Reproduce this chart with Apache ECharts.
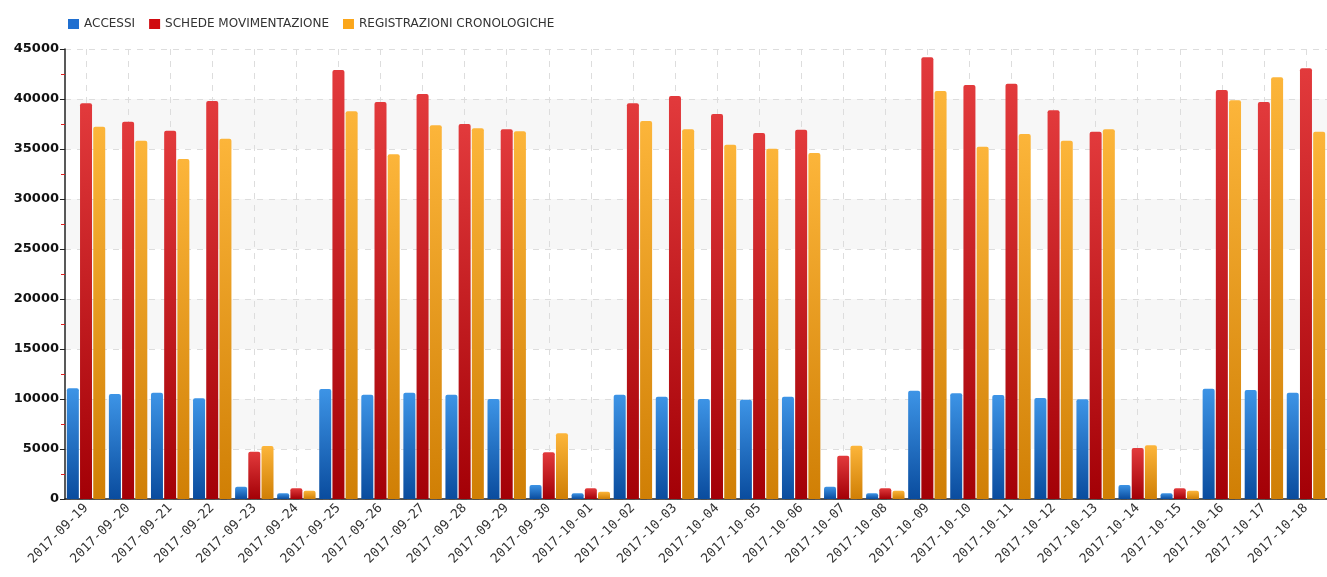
<!DOCTYPE html>
<html>
<head>
<meta charset="utf-8">
<script src="https://cdn.jsdelivr.net/npm/echarts@6/dist/echarts.min.js"></script>
<style>
  html, body { margin: 0; padding: 0; background: #fff; }
  #chart { width: 1327px; height: 577px; }
</style>
</head>
<body>
<div id="chart"></div>
<script>
const days = [
  '2017-09-19', '2017-09-20', '2017-09-21', '2017-09-22', '2017-09-23', '2017-09-24',
  '2017-09-25', '2017-09-26', '2017-09-27', '2017-09-28', '2017-09-29', '2017-09-30',
  '2017-10-01', '2017-10-02', '2017-10-03', '2017-10-04', '2017-10-05', '2017-10-06',
  '2017-10-07', '2017-10-08', '2017-10-09', '2017-10-10', '2017-10-11', '2017-10-12',
  '2017-10-13', '2017-10-14', '2017-10-15', '2017-10-16', '2017-10-17', '2017-10-18'
];

const accessi = [
  11070, 10500, 10630, 10070, 1230, 570, 11000, 10430, 10630, 10430, 10000, 1400,
  570, 10430, 10230, 10000, 9930, 10230, 1230, 570, 10830, 10570, 10400, 10100,
  9970, 1400, 570, 11030, 10900, 10630
];

const schede = [
  39570, 37730, 36830, 39800, 4730, 1070, 42900, 39700, 40500, 37500, 36970, 4670,
  1070, 39570, 40300, 38500, 36600, 36930, 4330, 1070, 44170, 41400, 41530, 38870,
  36730, 5100, 1070, 40900, 39700, 43070
];

const registrazioni = [
  37230, 35830, 34000, 36030, 5300, 830, 38770, 34470, 37370, 37070, 36770, 6570,
  730, 37800, 36970, 35430, 35030, 34600, 5330, 830, 40800, 35230, 36500, 35830,
  36970, 5370, 830, 39870, 42170, 36730
];

const seriesNames = ['ACCESSI', 'SCHEDE MOVIMENTAZIONE', 'REGISTRAZIONI CRONOLOGICHE'];

// colori: [chiaro, scuro]
const palette = [
  ['#3d94e6', '#0a4c9e'],
  ['#e23a3c', '#a30006'],
  ['#fcb53a', '#d07f05']
];
const legendColors = ['#1f6fd0', '#d00a0f', '#fba61a'];

const grad = (c) => new echarts.graphic.LinearGradient(0, 0, 0, 1, [
  { offset: 0, color: c[0] },
  { offset: 1, color: c[1] }
]);

const chart = echarts.init(document.getElementById('chart'));

const makeSeries = (name, values, c) => ({
  name: name,
  type: 'bar',
  data: values,
  barWidth: 12,
  barGap: '10%',
  itemStyle: { color: grad(c), borderRadius: [2, 2, 0, 0] }
});

const option = {
  animation: false,
  legend: {
    left: 63,
    top: 13,
    itemWidth: 11,
    itemHeight: 10,
    itemGap: 14,
    icon: 'rect',
    textStyle: { color: '#333', fontSize: 12, fontFamily: 'DejaVu Sans' },
    data: seriesNames.map((n, i) => ({ name: n, itemStyle: { color: legendColors[i] } }))
  },
  grid: { left: 65, right: -4, top: 49, bottom: 78 },
  xAxis: {
    type: 'category',
    data: days,
    axisLine: { lineStyle: { color: '#222', width: 1.5 } },
    axisTick: { alignWithLabel: true, length: 5, lineStyle: { color: '#222' } },
    axisLabel: {
      rotate: 45,
      interval: 0,
      color: '#333',
      fontSize: 13,
      fontFamily: 'DejaVu Sans Mono',
      margin: 7
    },
    splitLine: {
      show: true,
      alignWithLabel: true,
      lineStyle: { color: '#ddd', type: [6, 6] }
    }
  },
  yAxis: {
    type: 'value',
    min: 0,
    max: 45000,
    interval: 5000,
    axisLine: { show: true, lineStyle: { color: '#222', width: 1.5 } },
    axisTick: { show: true, length: 5, lineStyle: { color: '#222' } },
    minorTick: { show: true, splitNumber: 2, length: 4, lineStyle: { color: '#e02020' } },
    axisLabel: {
      color: '#111',
      fontSize: 13,
      fontFamily: 'DejaVu Sans',
      fontWeight: 'bold',
      margin: 6,
      formatter: (v) => String(v)
    },
    splitLine: { show: true, lineStyle: { color: '#ddd', type: [6, 6] } },
    splitArea: { show: true, areaStyle: { color: ['rgba(255,255,255,0)', '#f7f7f7'] } }
  },
  series: [
    makeSeries(seriesNames[0], accessi, palette[0]),
    makeSeries(seriesNames[1], schede, palette[1]),
    makeSeries(seriesNames[2], registrazioni, palette[2])
  ]
};

chart.setOption(option);
</script>
</body>
</html>
